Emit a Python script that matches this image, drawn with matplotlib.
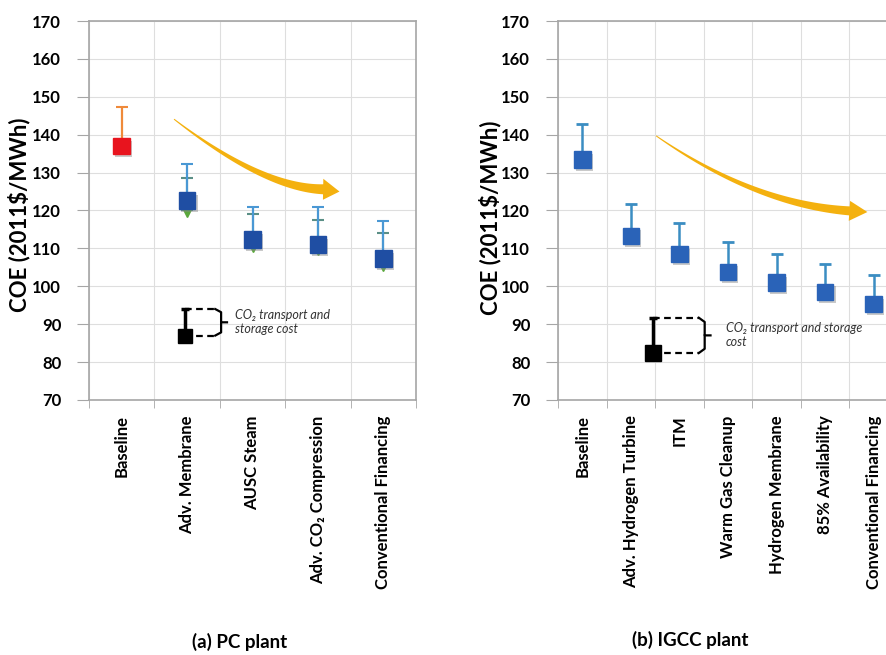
import numpy as np
import matplotlib
matplotlib.use("Agg")
import matplotlib.pyplot as plt
import matplotlib.patheffects as pe
from matplotlib.patches import Polygon

plt.rcParams["font.family"] = ["Lato", "DejaVu Sans"]

# ---- data ----
pc_labels = ["Baseline", "Adv. Membrane", "AUSC Steam", "Adv. CO₂ Compression", "Conventional Financing"]
pc_baseline = 137.0
pc_baseline_top = 147.2
pc_blue = [np.nan, 122.6, 112.3, 111.0, 107.3]
pc_blue_top = [np.nan, 132.2, 120.8, 121.0, 117.3]
pc_green = [np.nan, 120.0, 111.0, 110.0, 106.0]
pc_green_top = [np.nan, 128.5, 119.2, 117.6, 114.0]

igcc_labels = ["Baseline", "Adv. Hydrogen Turbine", "ITM", "Warm Gas Cleanup",
               "Hydrogen Membrane", "85% Availability", "Conventional Financing"]
igcc_vals = [133.4, 113.3, 108.5, 103.8, 101.0, 98.5, 95.3]
igcc_top = [142.8, 121.8, 116.8, 111.6, 108.6, 106.0, 103.0]

# legend-key example (marker + T&S bar)
pc_key = (0.97, 87.0, 94.0)
igcc_key = (1.46, 82.4, 91.7)

YMIN, YMAX = 70, 170
GRID = "#dedede"
SPINE = "#a6a6a6"
ARROW = "#f4b10f"

W, H = 886, 655
fig = plt.figure(figsize=(W / 100, H / 100), dpi=100)


def px_axes(x0, x1, y0, y1):
    return fig.add_axes([x0 / W, 1 - y1 / H, (x1 - x0) / W, (y1 - y0) / H])


ax1 = px_axes(89, 416, 21, 400)
ax2 = px_axes(558, 898, 21, 400)


def style(ax, labels):
    n = len(labels)
    ax.set_xlim(-0.5, n - 0.5)
    ax.set_ylim(YMIN, YMAX)
    ax.set_yticks(np.arange(YMIN, YMAX + 1, 10))
    ax.set_xticks(np.arange(n))
    ax.set_xticklabels(labels, rotation=90, fontweight="bold", fontsize=12)
    ax.set_xticks(np.arange(n + 1) - 0.5, minor=True)
    ax.tick_params(axis="x", which="major", length=0, pad=11)
    ax.tick_params(axis="x", which="minor", length=6, color=SPINE)
    ax.tick_params(axis="y", length=9, color=SPINE, labelsize=12, pad=11)
    for t in ax.get_yticklabels():
        t.set_fontweight("bold")
    ax.grid(which="minor", axis="x", color=GRID, lw=0.8)
    ax.grid(which="major", axis="y", color=GRID, lw=0.8)
    ax.set_axisbelow(True)
    for s in ax.spines.values():
        s.set_color(SPINE)
        s.set_linewidth(1.2)


style(ax1, pc_labels)
style(ax2, igcc_labels)

shadow = [pe.SimplePatchShadow(offset=(1.5, -2), shadow_rgbFace="#888888", alpha=0.45), pe.Normal()]

# ---- (a) PC plant ----
x1 = np.arange(len(pc_labels))
g = np.array(pc_green)
ax1.errorbar(x1, g, yerr=[np.zeros_like(g), np.array(pc_green_top) - g], fmt="v",
             color="#5aa83c", ms=10, ecolor="#5b8f86", elinewidth=1.5, capsize=4, capthick=1.5, zorder=3)
b = np.array(pc_blue)
ax1.errorbar(x1, b, yerr=[np.zeros_like(b), np.array(pc_blue_top) - b], fmt="none",
             ecolor="#4a98d4", elinewidth=1.6, capsize=4, capthick=1.5, zorder=4)
ax1.plot(x1, b, "s", color="#1f4ea3", ms=12, zorder=5, path_effects=shadow)
ax1.errorbar([0], [pc_baseline], yerr=[[0], [pc_baseline_top - pc_baseline]], fmt="none",
             ecolor="#ef8a3a", elinewidth=1.6, capsize=4, capthick=1.5, zorder=4)
ax1.plot([0], [pc_baseline], "s", color="#e8141e", ms=12, zorder=5, path_effects=shadow)

# ---- (b) IGCC plant ----
x2 = np.arange(len(igcc_labels))
v = np.array(igcc_vals)
ebb = ax2.errorbar(x2, v, yerr=[np.zeros_like(v), np.array(igcc_top) - v], fmt="none",
                   ecolor="#3b8dc2", elinewidth=1.8, capsize=4, capthick=2, zorder=4)
for cap in ebb[1]:
    cap.set_color("#24466a")
ax2.plot(x2, v, "s", color="#2a63b8", ms=12, zorder=5, path_effects=shadow)


def key(ax, k, dash_to, brace_x, text_x, text, ms, fs):
    x, lo, hi = k
    ax.errorbar([x], [lo], yerr=[[0], [hi - lo]], fmt="s", color="black", ms=ms,
                ecolor="black", elinewidth=2.5, capsize=3, capthick=2.5, zorder=5)
    ax.plot([x, dash_to], [hi, hi], ls=(0, (3, 2)), color="black", lw=1.6, zorder=5)
    ax.plot([x, dash_to], [lo, lo], ls=(0, (3, 2)), color="black", lw=1.6, zorder=5)
    mid = (lo + hi) / 2
    d = 0.04 * (hi - lo)
    ax.plot([dash_to, brace_x, brace_x, brace_x + (brace_x - dash_to)], [hi, hi - 3 * d, mid, mid],
            color="black", lw=1.6, zorder=5)
    ax.plot([dash_to, brace_x, brace_x], [lo, lo + 3 * d, mid], color="black", lw=1.6, zorder=5)
    ax.text(text_x, mid, text, fontsize=fs, style="italic", color="#333333",
            ha="left", va="center", linespacing=1.2)


key(ax1, pc_key, 1.43, 1.52, 1.74, "CO₂ transport and\nstorage cost", 10, 9)
key(ax2, igcc_key, 2.40, 2.52, 2.95, "CO₂ transport and storage\ncost", 12, 9)


def trend_arrow(ax, p0, p1, p2, tip, w0, w1, head_w):
    # curved, widening arrow drawn in display space then mapped back to data
    T = ax.transData
    P0, P1, P2, TP = (T.transform(p) for p in (p0, p1, p2, tip))
    t = np.linspace(0, 1, 60)[:, None]
    pts = (1 - t) ** 2 * P0 + 2 * (1 - t) * t * P1 + t ** 2 * P2
    der = 2 * (1 - t) * (P1 - P0) + 2 * t * (P2 - P1)
    nrm = np.column_stack([-der[:, 1], der[:, 0]])
    nrm /= np.linalg.norm(nrm, axis=1)[:, None]
    hw = (w0 + (w1 - w0) * t) / 2
    left = pts + nrm * hw
    right = pts - nrm * hw
    n_end = nrm[-1]
    head = [P2 + n_end * head_w / 2, TP, P2 - n_end * head_w / 2]
    poly = np.vstack([left, head, right[::-1]])
    ax.add_patch(Polygon(T.inverted().transform(poly), closed=True, color=ARROW, lw=0, zorder=2))


trend_arrow(ax1, (0.80, 144.1), (2.17, 125.9), (3.08, 125.6), (3.33, 125.0), 1.0, 10.0, 21)
trend_arrow(ax2, (1.52, 139.7), (3.56, 121.6), (5.50, 119.9), (5.87, 119.6), 1.0, 9.0, 20)

fig.text(19 / W, 1 - 215 / H, "COE (2011$/MWh)", rotation=90, fontsize=16, fontweight="bold",
         ha="center", va="center")
fig.text(490 / W, 1 - 218 / H, "COE (2011$/MWh)", rotation=90, fontsize=16, fontweight="bold",
         ha="center", va="center")
fig.text(240 / W, 1 - 642 / H, "(a) PC plant", fontsize=13.5, fontweight="bold", ha="center", va="center")
fig.text(690 / W, 1 - 640 / H, "(b) IGCC plant", fontsize=13.5, fontweight="bold", ha="center", va="center")

fig.savefig("out.png", dpi=100)
